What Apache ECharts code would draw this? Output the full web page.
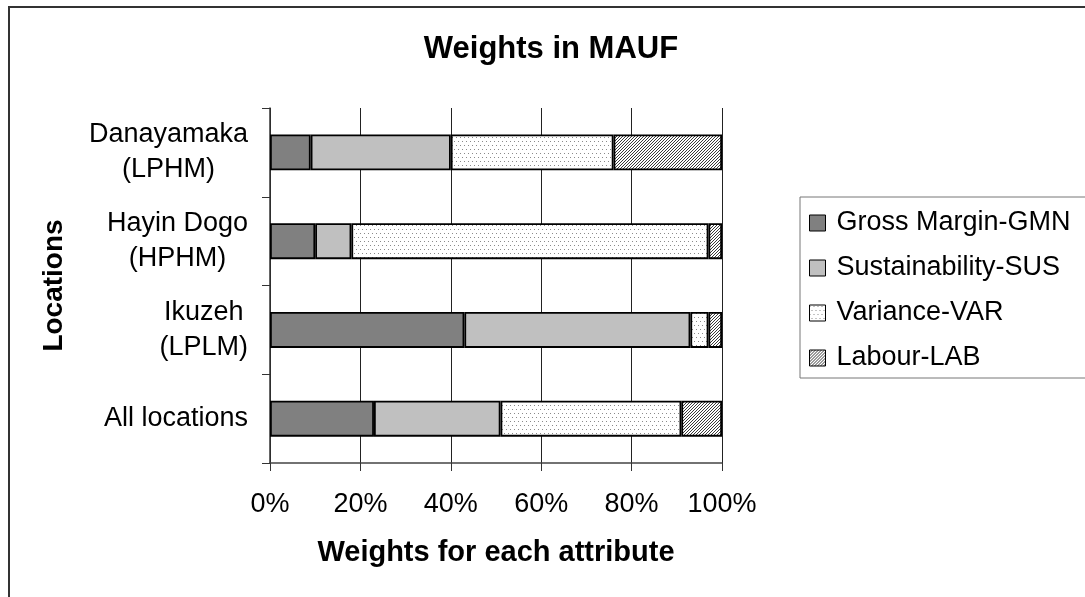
<!DOCTYPE html>
<html>
<head>
<meta charset="utf-8">
<script src="https://cdn.jsdelivr.net/npm/echarts@6/dist/echarts.min.js"></script>
<style>
html,body{margin:0;padding:0;background:#fff;}
#chart{width:1085px;height:597px;}
</style>
</head>
<body>
<div id="chart"></div>
<script>
// ---- data ----
const categories = ['Danayamaka\n(LPHM)', 'Hayin Dogo\n(HPHM)', 'Ikuzeh\n(LPLM)', 'All locations'];
const seriesNames = ['Gross Margin-GMN', 'Sustainability-SUS', 'Variance-VAR', 'Labour-LAB'];
const gmn = [9, 10, 43, 23];
const sus = [31, 8, 50, 28];
const vari = [36, 79, 4, 40];
const lab = [24, 3, 3, 9];
const xTicks = [0, 20, 40, 60, 80, 100];

// ---- patterns ----
function dotPattern() {
  const c = document.createElement('canvas');
  c.width = 4; c.height = 8;
  const g = c.getContext('2d');
  g.fillStyle = '#ffffff'; g.fillRect(0, 0, 4, 8);
  g.fillStyle = '#8a8a8a';
  g.fillRect(0, 1, 1, 1);
  g.fillRect(2, 5, 1, 1);
  return c;
}
function hatchPattern() {
  const c = document.createElement('canvas');
  c.width = 3; c.height = 3;
  const g = c.getContext('2d');
  g.fillStyle = '#ffffff'; g.fillRect(0, 0, 3, 3);
  g.fillStyle = '#3a3a3a';
  g.fillRect(2, 0, 1, 1);
  g.fillRect(1, 1, 1, 1);
  g.fillRect(0, 2, 1, 1);
  return c;
}
const FONT = 'Liberation Sans, Arial, sans-serif';
const fills = ['#808080', '#c0c0c0', {image: dotPattern(), repeat: 'repeat'}, {image: hatchPattern(), repeat: 'repeat'}];
const values = [gmn, sus, vari, lab];

const chart = echarts.init(document.getElementById('chart'), null, {renderer: 'canvas'});
const option = {
  animation: false,
  backgroundColor: '#ffffff',
  title: {
    text: 'Weights in MAUF',
    left: 551, textAlign: 'center', top: 34, padding: 0,
    textStyle: {fontFamily: FONT, fontSize: 31, fontWeight: 'bold', color: '#000'}
  },
  graphic: [{
    type: 'rect', z: -10, silent: true,
    shape: {x: 9, y: 7, width: 1200, height: 700},
    style: {fill: 'none', stroke: '#333', lineWidth: 2}
  }],
  legend: {
    orient: 'vertical',
    left: 800, top: 197,
    padding: [11, 100, 5, 9],
    itemGap: 15,
    itemWidth: 16, itemHeight: 16,
    icon: 'rect',
    borderColor: '#777', borderWidth: 1,
    itemStyle: {borderColor: '#000', borderWidth: 1},
    textStyle: {fontFamily: FONT, fontSize: 27, color: '#000', lineHeight: 30, padding: [0, 0, 0, 6]},
    data: seriesNames
  },
  grid: {left: 270, right: 363, top: 108, bottom: 134, containLabel: false},
  xAxis: {
    type: 'value', min: 0, max: 100, interval: 20,
    name: 'Weights for each attribute',
    nameLocation: 'middle', nameGap: 75,
    nameTextStyle: {fontFamily: FONT, fontSize: 29, fontWeight: 'bold', color: '#000'},
    axisLine: {show: true, lineStyle: {color: '#444', width: 1.5}},
    axisTick: {show: true, length: 8, lineStyle: {color: '#333'}},
    axisLabel: {
      margin: 28, fontFamily: FONT, fontSize: 27, color: '#000',
      formatter: function (v) { return xTicks.indexOf(v) >= 0 ? v + '%' : ''; }
    },
    splitLine: {show: true, lineStyle: {color: '#222', width: 1}}
  },
  yAxis: {
    type: 'category', inverse: true, data: categories,
    name: 'Locations', nameLocation: 'middle', nameGap: 202, nameRotate: 90,
    nameTextStyle: {fontFamily: FONT, fontSize: 28, fontWeight: 'bold', color: '#000'},
    axisLine: {show: true, lineStyle: {color: '#333', width: 1.5}},
    axisTick: {show: true, length: 8, lineStyle: {color: '#333'}},
    axisLabel: {
      margin: 22, align: 'right', fontFamily: FONT, fontSize: 27, color: '#000', lineHeight: 35,
      formatter: function (v) { return v.split('\n').map(function (l) { return '{c|' + l + '}'; }).join('\n'); },
      rich: {c: {align: 'center', fontFamily: FONT, fontSize: 27, color: '#000', lineHeight: 35}}
    },
    splitLine: {show: false}
  },
  series: seriesNames.map(function (name, i) {
    return {
      name: name, type: 'bar', stack: 'total', barWidth: 36,
      itemStyle: {color: fills[i], borderColor: '#000', borderWidth: 1.8},
      data: values[i]
    };
  })
};
chart.setOption(option);
</script>
</body>
</html>
